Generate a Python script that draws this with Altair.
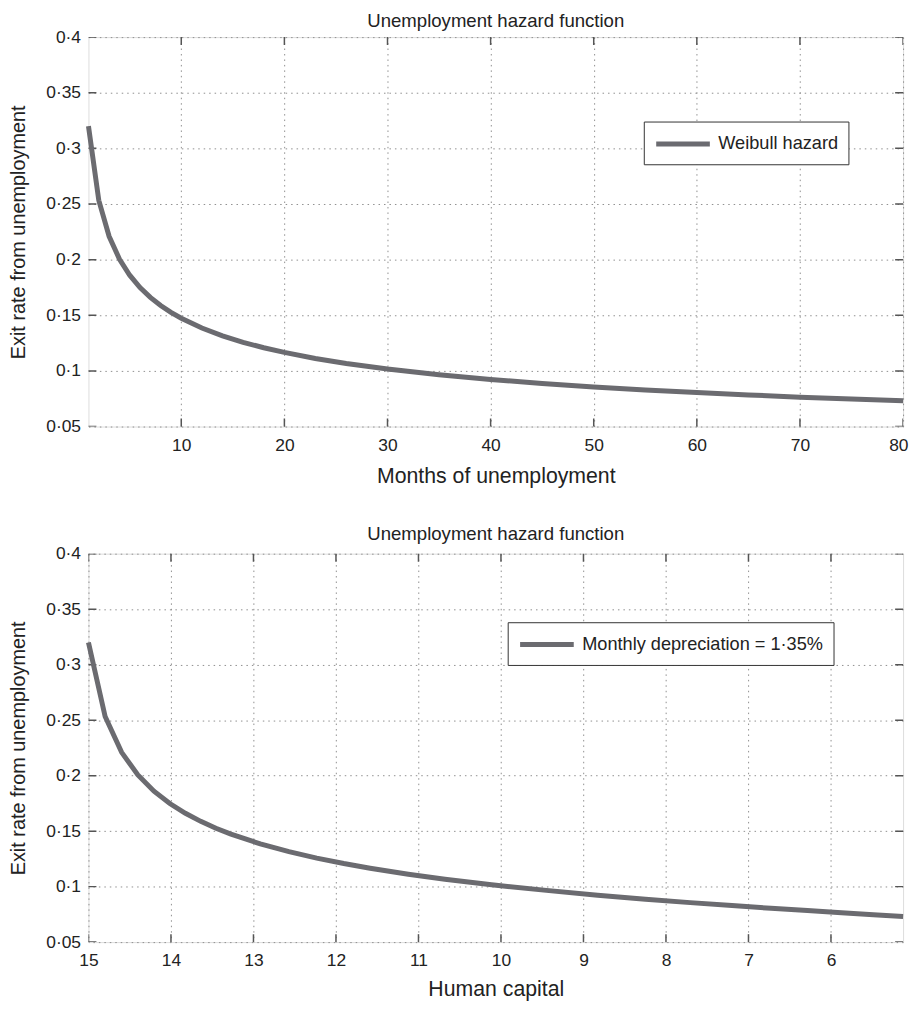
import altair as alt
import pandas as pd

# Values
months = [1, 2, 3, 4, 5, 6, 7, 8, 9, 10, 12, 14, 16, 18, 20, 23, 26, 30,
          35, 40, 45, 50, 55, 60, 65, 70, 75, 80]
human_capital = [15.000, 14.798, 14.598, 14.401, 14.206, 14.014, 13.825, 13.639,
                 13.455, 13.273, 12.917, 12.570, 12.233, 11.905, 11.586, 11.123,
                 10.679, 10.114, 9.449, 8.828, 8.248, 7.706, 7.200, 6.727, 6.285,
                 5.872, 5.486, 5.126]
hazard = [0.3200, 0.2533, 0.2210, 0.2006, 0.1860, 0.1749, 0.1661, 0.1588,
          0.1526, 0.1473, 0.1385, 0.1315, 0.1257, 0.1208, 0.1166, 0.1112,
          0.1067, 0.1017, 0.0966, 0.0923, 0.0887, 0.0856, 0.0829, 0.0805,
          0.0784, 0.0764, 0.0747, 0.0731]

title_text = "Unemployment hazard function"
y_title = "Exit rate from unemployment"
top_x_title = "Months of unemployment"
bottom_x_title = "Human capital"
top_series = "Weibull hazard"
bottom_series = "Monthly depreciation = 1·35%"
top_x_ticks = [10, 20, 30, 40, 50, 60, 70, 80]
bottom_x_ticks = [15, 14, 13, 12, 11, 10, 9, 8, 7, 6]
y_ticks = [0.05, 0.1, 0.15, 0.2, 0.25, 0.3, 0.35, 0.4]

LINE = "#6b6b70"
AXIS = "#555555"
FONT = "Liberation Sans"
W = 820

y_label_expr = "replace(format(datum.value, '.2~f'), '.', '·')"
# legend line sample: starts at the symbol's left edge, ~54px long
LEGEND_SYMBOL = "M-1,0H4.4"


def panel(xvals, xtitle, xticks, series, reverse, lx, ly, height,
          xlabel_pad, xtitle_pad, title_offset, flush):
    df = pd.DataFrame({"x": xvals, "y": hazard, "series": series})
    xscale = alt.Scale(nice=False, zero=False, reverse=reverse)
    yscale = alt.Scale(domain=[y_ticks[0], y_ticks[-1]], nice=False, zero=False)

    common = dict(grid=True, ticks=False, tickSize=0, domain=False,
                  gridColor="#8f8f8f", gridDash=[1.5, 4], gridWidth=1,
                  gridOpacity=1, labelFontSize=17.5, labelFont=FONT,
                  labelColor="#222", titleFont=FONT,
                  titleFontWeight="normal", titleColor="#222")

    xax = alt.Axis(orient="bottom", values=xticks, format="d", titleFontSize=21.4,
                   labelPadding=xlabel_pad, titlePadding=xtitle_pad,
                   labelFlush=flush, labelFlushOffset=5, **common)
    yax = alt.Axis(orient="left", values=y_ticks, labelExpr=y_label_expr,
                   titleFontSize=20, labelPadding=8, titlePadding=17,
                   labelFlush=False, **common)

    main = alt.Chart(df).mark_line(strokeWidth=5, color=LINE, strokeCap="butt").encode(
        x=alt.X("x:Q", scale=xscale, title=xtitle, axis=xax),
        y=alt.Y("y:Q", scale=yscale, title=y_title, axis=yax),
        color=alt.Color("series:N",
                        scale=alt.Scale(domain=[series], range=[LINE]),
                        legend=alt.Legend(title=None, orient="none", legendX=lx,
                                          legendY=ly, symbolType=LEGEND_SYMBOL,
                                          symbolStrokeWidth=5, symbolSize=400,
                                          symbolFillColor="transparent",
                                          labelFontSize=18.3, labelFont=FONT,
                                          labelColor="#222", labelOffset=40,
                                          labelLimit=600,
                                          strokeColor="#333", fillColor="white",
                                          padding=10, symbolOpacity=1)),
    )

    # inward tick marks on all four sides of the box (clipped to the plot area)
    x_edges = [min(xvals), max(xvals)]
    y_edges = [y_ticks[0], y_ticks[-1]]
    xt = pd.DataFrame({"x": [v for v in xticks for _ in y_edges],
                       "y": [e for _ in xticks for e in y_edges]})
    yt = pd.DataFrame({"x": [e for _ in y_ticks for e in x_edges],
                       "y": [v for v in y_ticks for _ in x_edges]})
    xtick_layer = alt.Chart(xt).mark_tick(orient="vertical", size=16, thickness=1.5,
                                          color=AXIS, clip=True, opacity=1).encode(
        x=alt.X("x:Q", scale=xscale, title=xtitle, axis=xax),
        y=alt.Y("y:Q", scale=yscale, title=y_title, axis=yax),
    )
    ytick_layer = alt.Chart(yt).mark_tick(orient="horizontal", size=16, thickness=1.5,
                                          color=AXIS, clip=True, opacity=1).encode(
        x=alt.X("x:Q", scale=xscale, title=xtitle, axis=xax),
        y=alt.Y("y:Q", scale=yscale, title=y_title, axis=yax),
    )
    return (
        alt.layer(xtick_layer, ytick_layer, main)
        .properties(
            width=W, height=height,
            title=alt.TitleParams(title_text, font=FONT, fontSize=18.7,
                                  fontWeight="normal", color="#222",
                                  anchor="middle", frame="group",
                                  offset=title_offset),
        )
    )


top = panel(months, top_x_title, top_x_ticks, top_series, False, 559, 85,
            392, 10, 12, -3, True)
bottom = panel(human_capital, bottom_x_title, bottom_x_ticks,
               bottom_series, True, 422, 69, 391, 10, 9, 1, False)

chart = (
    alt.vconcat(top, bottom, spacing=36)
    .resolve_scale(color="independent")
    .resolve_legend(color="independent")
    .properties(padding={"left": 0, "top": 0, "right": 0, "bottom": 0})
    .configure_view(stroke=AXIS, strokeWidth=1.5)
    .configure(background="white")
)

chart.save("out.html", embed_options={"renderer": "svg", "actions": False})
